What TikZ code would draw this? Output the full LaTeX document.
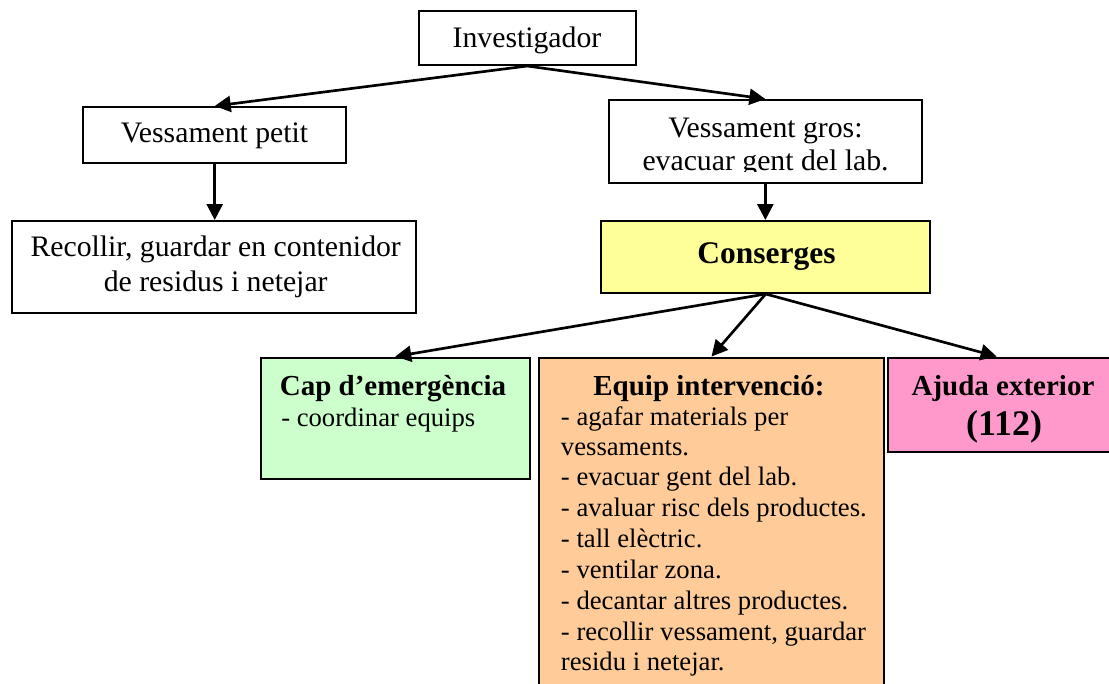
\documentclass[tikz,border=0pt]{standalone}
\usepackage{fontspec}
\setmainfont{Liberation Serif}
\usetikzlibrary{arrows.meta,fit}
\definecolor{cgreen}{RGB}{204,255,204}
\definecolor{corange}{RGB}{255,204,153}
\definecolor{cpink}{RGB}{255,153,204}
\definecolor{cyellow}{RGB}{255,255,153}
\begin{document}
\begin{tikzpicture}[x=0.75pt,y=-0.75pt,
  box/.style={draw=black,line width=1.5pt,inner sep=0pt},
  conn/.style={line width=2pt,-{Triangle[length=12pt,width=12pt]}},
  up/.style={font=\fontsize{22.3}{26}\selectfont,inner sep=0pt,anchor=base},
  low/.style={font=\fontsize{20}{23}\selectfont,inner sep=0pt,anchor=base west},
  lowtitle/.style={font=\fontsize{21.75}{26}\selectfont\bfseries,inner sep=0pt,anchor=base},
]
\useasboundingbox (0,0) rectangle (1109,683);
% corner coordinates
\coordinate (inv1) at (418.6,10.7);  \coordinate (inv2) at (635.8,65);
\coordinate (vp1) at (83,107);       \coordinate (vp2) at (346.4,163);
\coordinate (rec1) at (12,221);      \coordinate (rec2) at (416,313);
\coordinate (vg1) at (609,100);      \coordinate (vg2) at (921.7,183);
\coordinate (con1) at (601,221);     \coordinate (con2) at (930.4,293);
\coordinate (cap1) at (260.5,357.5); \coordinate (cap2) at (530,479);
\coordinate (equ1) at (539,357.5);   \coordinate (equ2) at (884,695);
\coordinate (aju1) at (888,357.5);   \coordinate (aju2) at (1112,451.7);
% boxes
\node[box,fill=white,fit=(inv1)(inv2)] (inv) {};
\node[box,fill=white,fit=(vp1)(vp2)] (vp) {};
\node[box,fill=white,fit=(rec1)(rec2)] (rec) {};
\node[box,fill=white,fit=(vg1)(vg2)] (vg) {};
\node[box,fill=cyellow,fit=(con1)(con2)] (con) {};
\node[box,fill=cgreen,fit=(cap1)(cap2)] (cap) {};
\node[box,fill=corange,fit=(equ1)(equ2)] (equ) {};
\node[box,fill=cpink,fit=(aju1)(aju2)] (aju) {};
% texts
\node[up] (tinv) at (527,47) {Investigador};
\node[up] (tvp) at (214.5,142.7) {Vessament petit};
\node[up] (trec1) at (215.7,256.7) {Recollir, guardar en contenidor};
\node[up] (trec2) at (215.7,291.7) {de residus i netejar};
\begin{scope}
\clip (609,100) rectangle (921.7,171);
\node[up] (tvg1) at (765.5,137) {Vessament gros:};
\node[up] (tvg2) at (765.5,170) {evacuar gent del lab.};
\end{scope}
\node[up,font=\fontsize{23.6}{28}\selectfont\bfseries] (tcon) at (766.5,263) {Conserges};
\node[lowtitle] (tcap) at (393,395) {Cap d’emergència};
\node[low] (tcap2) at (281,426.7) {- coordinar equips};
\node[lowtitle] (tequ) at (709,395) {Equip intervenció:};
\node[low] (te1) at (560.7,425) {- agafar materials per};
\node[low] (te2) at (560.7,455) {vessaments.};
\node[low] (te3) at (560.7,485.5) {- evacuar gent del lab.};
\node[low] (te4) at (560.7,516) {- avaluar risc dels productes.};
\node[low] (te5) at (560.7,547) {- tall elèctric.};
\node[low] (te6) at (560.7,578) {- ventilar zona.};
\node[low] (te7) at (560.7,609) {- decantar altres productes.};
\node[low] (te8) at (560.7,640.5) {- recollir vessament, guardar};
\node[low] (te9) at (560.7,670.5) {residu i netejar.};
\node[lowtitle] (taju) at (1003,395) {Ajuda exterior};
\node[lowtitle,font=\fontsize{27}{32}\selectfont\bfseries] (taju2) at (1004,435) {(112)};
% connectors
\draw[conn] (inv.south) -- (vp.north);
\draw[conn] (inv.south) -- (vg.north);
\draw[conn] (vp.south) -- (vp.south |- rec.north);
\draw[conn] (vg.south) -- (vg.south |- con.north);
\draw[conn] (con.south) -- (cap.north);
\draw[conn] (con.south) -- (equ.north);
\draw[conn] (con.south) -- ([xshift=-2.5]aju.north);
\end{tikzpicture}
\end{document}
